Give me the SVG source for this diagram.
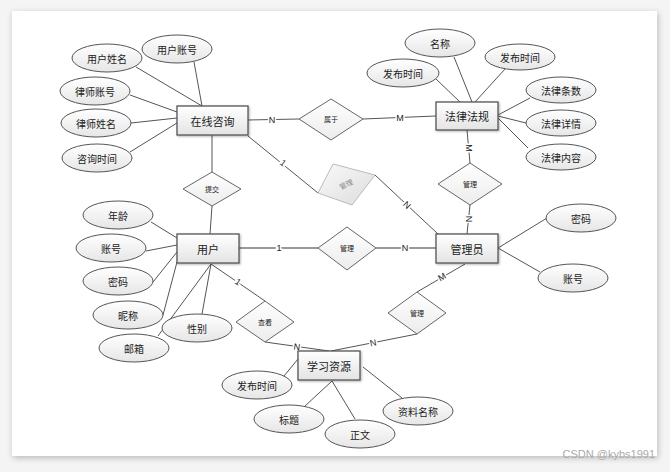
<svg xmlns="http://www.w3.org/2000/svg" width="670" height="472" viewBox="0 0 670 472">
<defs>
<linearGradient id="gBox" x1="0" y1="0" x2="0" y2="1"><stop offset="0" stop-color="#ffffff"/><stop offset="1" stop-color="#e4e4e4"/></linearGradient>
<linearGradient id="gEll" x1="0" y1="0" x2="0" y2="1"><stop offset="0" stop-color="#ffffff"/><stop offset="1" stop-color="#e6e6e6"/></linearGradient>
<linearGradient id="gDia" x1="0" y1="0" x2="0" y2="1"><stop offset="0" stop-color="#ffffff"/><stop offset="1" stop-color="#ececec"/></linearGradient>
<linearGradient id="gGray" x1="0" y1="0" x2="1" y2="1"><stop offset="0" stop-color="#fafafa"/><stop offset="1" stop-color="#dcdcdc"/></linearGradient>
<filter id="pageShadow" x="-5%" y="-5%" width="110%" height="110%"><feGaussianBlur in="SourceAlpha" stdDeviation="3"/><feOffset dx="1" dy="2"/><feComponentTransfer><feFuncA type="linear" slope="0.25"/></feComponentTransfer><feMerge><feMergeNode/><feMergeNode in="SourceGraphic"/></feMerge></filter>
<filter id="sh" x="-10%" y="-10%" width="130%" height="140%"><feGaussianBlur in="SourceAlpha" stdDeviation="1"/><feOffset dx="1" dy="1"/><feComponentTransfer><feFuncA type="linear" slope="0.3"/></feComponentTransfer><feMerge><feMergeNode/><feMergeNode in="SourceGraphic"/></feMerge></filter>
</defs>
<style>
.ent{fill:url(#gBox);stroke:#555;stroke-width:1.3;filter:url(#sh)}
.att{fill:url(#gEll);stroke:#555;stroke-width:1}
.dia{fill:url(#gDia);stroke:#666;stroke-width:1}
.t{font-family:"Noto Sans CJK SC","Liberation Sans",sans-serif;fill:#222;text-anchor:middle;dominant-baseline:central}
.te{font-size:11px}
.ta{font-size:10px}
.td{font-size:7px}
.ln{stroke:#555;stroke-width:1;fill:none}
.lab{font-family:"Liberation Sans","Noto Sans CJK SC",sans-serif;font-size:9px;fill:#222;text-anchor:middle;dominant-baseline:central;stroke:#fff;stroke-width:3;paint-order:stroke}
</style>
<rect width="670" height="472" fill="#f4f4f4"/>
<rect x="12" y="11" width="645" height="445" fill="#fff" filter="url(#pageShadow)"/>
<g id="connectors">
<line class="ln" x1="248" y1="120" x2="299" y2="119"/>
<line class="ln" x1="363" y1="119" x2="436" y2="116"/>
<line class="ln" x1="212" y1="135" x2="212" y2="172"/>
<line class="ln" x1="212" y1="206" x2="210" y2="234"/>
<line class="ln" x1="248" y1="136" x2="318" y2="193"/>
<line class="ln" x1="375" y1="175" x2="438" y2="234"/>
<line class="ln" x1="467" y1="130" x2="470" y2="163"/>
<line class="ln" x1="470" y1="205" x2="467" y2="234"/>
<line class="ln" x1="239" y1="248" x2="318" y2="248" style="stroke:#777;stroke-width:1.5"/>
<line class="ln" x1="376" y1="248" x2="436" y2="248" style="stroke:#777;stroke-width:1.5"/>
<line class="ln" x1="211" y1="264" x2="265" y2="301"/>
<line class="ln" x1="265" y1="342" x2="329" y2="351"/>
<line class="ln" x1="417" y1="334" x2="331" y2="351"/>
<line class="ln" x1="465" y1="264" x2="417" y2="292"/>
<!-- attribute links -->
<line class="ln" x1="194" y1="62" x2="202" y2="106"/>
<line class="ln" x1="136" y1="67" x2="202" y2="106"/>
<line class="ln" x1="130" y1="95" x2="177" y2="112"/>
<line class="ln" x1="131" y1="123" x2="177" y2="118"/>
<line class="ln" x1="130" y1="152" x2="177" y2="123"/>
<line class="ln" x1="454" y1="57" x2="472" y2="102"/>
<line class="ln" x1="436" y1="79" x2="460" y2="102"/>
<line class="ln" x1="505" y1="69" x2="475" y2="102"/>
<line class="ln" x1="530" y1="98" x2="498" y2="115"/>
<line class="ln" x1="526" y1="123" x2="498" y2="116"/>
<line class="ln" x1="528" y1="148" x2="498" y2="118"/>
<line class="ln" x1="547" y1="218" x2="498" y2="248"/>
<line class="ln" x1="540" y1="272" x2="498" y2="248"/>
<line class="ln" x1="151" y1="222" x2="177" y2="238"/>
<line class="ln" x1="146" y1="251" x2="177" y2="245"/>
<line class="ln" x1="153" y1="282" x2="177" y2="252"/>
<line class="ln" x1="163" y1="315" x2="177" y2="262"/>
<line class="ln" x1="202" y1="314" x2="211" y2="264"/>
<line class="ln" x1="158" y1="336" x2="211" y2="264"/>
<line class="ln" x1="284" y1="376" x2="298" y2="359"/>
<line class="ln" x1="305" y1="406" x2="332" y2="381"/>
<line class="ln" x1="355" y1="419" x2="332" y2="381"/>
<line class="ln" x1="402" y1="398" x2="363" y2="367"/>
<!-- cardinality labels -->
<text class="lab" x="272" y="120">N</text>
<text class="lab" x="400" y="118">M</text>
<text class="lab" transform="translate(283,163) rotate(39)">1</text>
<text class="lab" transform="translate(407,205) rotate(43)">N</text>
<text class="lab" transform="translate(469,148) rotate(90)">M</text>
<text class="lab" transform="translate(469,219) rotate(90)">N</text>
<text class="lab" x="279" y="248">1</text>
<text class="lab" x="405" y="248">N</text>
<text class="lab" transform="translate(238,282) rotate(34)">1</text>
<text class="lab" transform="translate(297,347) rotate(8)">N</text>
<text class="lab" transform="translate(373,343) rotate(-11)">N</text>
<text class="lab" transform="translate(442,277) rotate(-30)">M</text>
</g>
<g id="rel-shuyu"><polygon class="dia" points="331,99 363,119 331,140 299,119"/><text class="t td" x="331" y="119">属于</text></g>
<g id="rel-tijiao"><polygon class="dia" points="212,172 241,189 212,206 183,189"/><text class="t td" x="212" y="189">提交</text></g>
<g id="rel-guanli-gray"><polygon points="318,193 333,164 375,175 352,205" fill="url(#gGray)" stroke="#bbb" stroke-width="1"/><text class="t td" style="fill:#888" transform="translate(346,184) rotate(-25)">管理</text></g>
<g id="rel-guanli-fagui"><polygon class="dia" points="470,163 502,184 470,205 438,184"/><text class="t td" x="470" y="184">管理</text></g>
<g id="rel-guanli-user"><polygon class="dia" points="347,227 376,248 347,270 318,248"/><text class="t td" x="347" y="248">管理</text></g>
<g id="rel-chakan"><polygon class="dia" points="265,301 294,322 265,342 236,322"/><text class="t td" x="265" y="322">查看</text></g>
<g id="rel-guanli-res"><polygon class="dia" points="417,292 446,313 417,334 388,313"/><text class="t td" x="417" y="313">管理</text></g>
<g id="ent-zixun"><rect class="ent" x="177" y="106" width="71" height="29"/><text class="t te" x="212.5" y="120.5">在线咨询</text></g>
<g id="ent-fagui"><rect class="ent" x="436" y="102" width="62" height="28"/><text class="t te" x="467" y="116">法律法规</text></g>
<g id="ent-admin"><rect class="ent" x="436" y="234" width="62" height="29"/><text class="t te" x="467" y="248.5">管理员</text></g>
<g id="ent-user"><rect class="ent" x="177" y="234" width="62" height="29"/><text class="t te" x="208" y="248.5">用户</text></g>
<g id="ent-res"><rect class="ent" x="298" y="351" width="62" height="29"/><text class="t te" x="329" y="365.5">学习资源</text></g>
<g id="att-yhzh"><ellipse class="att" cx="177" cy="49" rx="35" ry="14"/><text class="t ta" x="177" y="49">用户账号</text></g>
<g id="att-yhxm"><ellipse class="att" cx="107" cy="58" rx="35" ry="14"/><text class="t ta" x="107" y="58">用户姓名</text></g>
<g id="att-lszh"><ellipse class="att" cx="95" cy="91" rx="35" ry="14"/><text class="t ta" x="95" y="91">律师账号</text></g>
<g id="att-lsxm"><ellipse class="att" cx="96" cy="123" rx="35" ry="14"/><text class="t ta" x="96" y="123">律师姓名</text></g>
<g id="att-zxsj"><ellipse class="att" cx="97" cy="158" rx="35" ry="14"/><text class="t ta" x="97" y="158">咨询时间</text></g>
<g id="att-mc"><ellipse class="att" cx="440" cy="43" rx="35" ry="14"/><text class="t ta" x="440" y="43">名称</text></g>
<g id="att-fbsj1"><ellipse class="att" cx="403" cy="73" rx="36" ry="14"/><text class="t ta" x="403" y="73">发布时间</text></g>
<g id="att-fbsj2"><ellipse class="att" cx="520" cy="57" rx="35" ry="13"/><text class="t ta" x="520" y="57">发布时间</text></g>
<g id="att-flts"><ellipse class="att" cx="561" cy="90" rx="35" ry="13"/><text class="t ta" x="561" y="90">法律条数</text></g>
<g id="att-flxq"><ellipse class="att" cx="561" cy="123" rx="35" ry="13"/><text class="t ta" x="561" y="123">法律详情</text></g>
<g id="att-flnr"><ellipse class="att" cx="561" cy="157" rx="35" ry="13"/><text class="t ta" x="561" y="157">法律内容</text></g>
<g id="att-admin-mm"><ellipse class="att" cx="581" cy="218" rx="35" ry="14"/><text class="t ta" x="581" y="218">密码</text></g>
<g id="att-admin-zh"><ellipse class="att" cx="573" cy="278" rx="35" ry="14"/><text class="t ta" x="573" y="278">账号</text></g>
<g id="att-nl"><ellipse class="att" cx="118" cy="215" rx="35" ry="14"/><text class="t ta" x="118" y="215">年龄</text></g>
<g id="att-zh"><ellipse class="att" cx="111" cy="248" rx="35" ry="14"/><text class="t ta" x="111" y="248">账号</text></g>
<g id="att-mm"><ellipse class="att" cx="118" cy="281" rx="35" ry="14"/><text class="t ta" x="118" y="281">密码</text></g>
<g id="att-nc"><ellipse class="att" cx="128" cy="315" rx="35" ry="14"/><text class="t ta" x="128" y="315">昵称</text></g>
<g id="att-yx"><ellipse class="att" cx="134" cy="348" rx="35" ry="14"/><text class="t ta" x="134" y="348">邮箱</text></g>
<g id="att-xb"><ellipse class="att" cx="197" cy="328" rx="35" ry="14"/><text class="t ta" x="197" y="328">性别</text></g>
<g id="att-res-fbsj"><ellipse class="att" cx="257" cy="385" rx="35" ry="14"/><text class="t ta" x="257" y="385">发布时间</text></g>
<g id="att-bt"><ellipse class="att" cx="289" cy="419" rx="35" ry="14"/><text class="t ta" x="289" y="419">标题</text></g>
<g id="att-zw"><ellipse class="att" cx="360" cy="434" rx="35" ry="14"/><text class="t ta" x="360" y="434">正文</text></g>
<g id="att-zlmc"><ellipse class="att" cx="418" cy="411" rx="35" ry="14"/><text class="t ta" x="418" y="411">资料名称</text></g>
<text x="655" y="458" font-family="Liberation Sans, sans-serif" font-size="11" fill="#aaa" text-anchor="end">CSDN @kybs1991</text>
</svg>
